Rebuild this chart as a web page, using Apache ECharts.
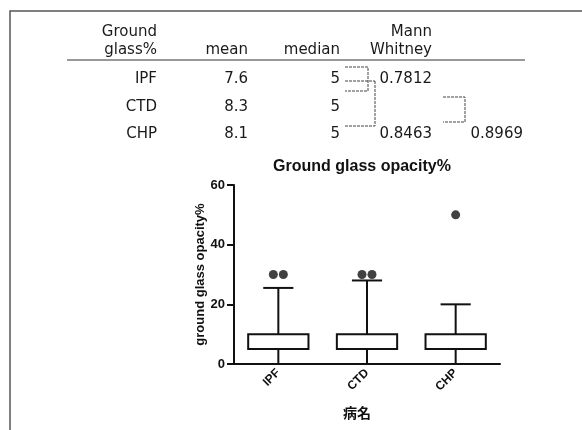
<!DOCTYPE html>
<html>
<head>
<meta charset="utf-8">
<script src="https://cdn.jsdelivr.net/npm/echarts@6/dist/echarts.min.js"></script>
<style>
html,body{margin:0;padding:0;background:#fff;}
#main{width:582px;height:430px;}
</style>
</head>
<body>
<div id="main"></div>
<script>
// table data
var rowNames = ['IPF', 'CTD', 'CHP'];
var meanVals = ['7.6', '8.3', '8.1'];
var medianVals = ['5', '5', '5'];
var pLeft = ['0.7812', '', '0.8463'];
var pRight = ['', '', '0.8969'];
var headTop = ['Ground', '', '', 'Mann'];
var headBottom = ['glass%', 'mean', 'median', 'Whitney'];

// boxplot data: [min, Q1, median, Q3, max]
var categories = ['IPF', 'CTD', 'CHP'];
var boxStats = [
    [0, 5, 5, 10, 25.5],
    [0, 5, 5, 10, 28],
    [0, 5, 5, 10, 20]
];
// outliers: [category index, value]
var outliers = [[0, 30], [0, 30], [1, 30], [1, 30], [2, 50]];
var outlierShift = [-5, 5, -5, 5, 0];
var yTicks = [0, 20, 40, 60];

var colRight = [157, 248, 340, 432, 523];
var rowY = [79, 107, 134];
var tFont = '15px "DejaVu Sans"';
var ink = '#1a1a1a';

var graphics = [];
function txt(s, x, y) {
    graphics.push({type: 'text', x: x, y: y,
        style: {text: s, font: tFont, fill: ink, align: 'right', verticalAlign: 'middle'}});
}
headTop.forEach(function (s, i) { if (s) txt(s, colRight[i], 32); });
headBottom.forEach(function (s, i) { txt(s, colRight[i], 50); });
rowNames.forEach(function (s, i) {
    txt(s, colRight[0], rowY[i]);
    txt(meanVals[i], colRight[1], rowY[i]);
    txt(medianVals[i], colRight[2], rowY[i]);
    if (pLeft[i]) txt(pLeft[i], colRight[3], rowY[i]);
    if (pRight[i]) txt(pRight[i], colRight[4], rowY[i]);
});
// frame + rule under header
graphics.push({type: 'polyline', shape: {points: [[10, 430], [10, 11], [582, 11]]},
    style: {stroke: '#555', lineWidth: 1.5, fill: null}});
graphics.push({type: 'line', shape: {x1: 67, y1: 60, x2: 525, y2: 60},
    style: {stroke: '#333', lineWidth: 1}});
// dashed brackets
var brackets = [
    [[345, 67], [368, 67], [368, 91], [345, 91]],
    [[345, 81], [375, 81]],
    [[375, 81], [375, 126], [345, 126]],
    [[443, 97], [465, 97], [465, 122], [443, 122]]
];
brackets.forEach(function (p) {
    graphics.push({type: 'polyline', shape: {points: p},
        style: {stroke: '#444', lineWidth: 1, lineDash: [3, 1], fill: null}});
});

var chart = echarts.init(document.getElementById('main'));
var option = {
    backgroundColor: '#fff',
    animation: false,
    title: {
        text: 'Ground glass opacity%',
        left: 357,
        top: 154,
        textAlign: 'center',
        textStyle: {fontFamily: 'Liberation Sans', fontWeight: 'bold', fontSize: 16, color: '#111'}
    },
    grid: {left: 234, right: 82, top: 185, bottom: 66},
    xAxis: {
        type: 'category',
        data: categories,
        name: '病名',
        nameLocation: 'middle',
        nameGap: 42,
        nameTextStyle: {fontFamily: 'Noto Sans CJK JP', fontWeight: 'bold', fontSize: 14,
            color: '#111', padding: [0, 20, 0, 0]},
        axisLine: {lineStyle: {color: '#111', width: 2}},
        axisTick: {alignWithLabel: true, length: 5, lineStyle: {color: '#111', width: 2}},
        axisLabel: {rotate: 45, margin: 7, fontFamily: 'Liberation Sans', fontWeight: 'bold',
            fontSize: 12, color: '#111'},
        splitLine: {show: false}
    },
    yAxis: {
        type: 'value',
        min: yTicks[0],
        max: yTicks[yTicks.length - 1],
        interval: yTicks[1] - yTicks[0],
        name: 'ground glass opacity%',
        nameLocation: 'middle',
        nameGap: 26,
        nameRotate: 90,
        nameTextStyle: {fontFamily: 'Liberation Sans', fontWeight: 'bold', fontSize: 13, color: '#111'},
        axisLine: {show: true, lineStyle: {color: '#111', width: 2}},
        axisTick: {show: true, length: 7, lineStyle: {color: '#111', width: 2}},
        axisLabel: {margin: 9, fontFamily: 'Liberation Sans', fontWeight: 'bold', fontSize: 13, color: '#111'},
        splitLine: {show: false}
    },
    graphic: graphics,
    series: [
        {
            type: 'custom',
            data: boxStats.map(function (s, i) { return [i].concat(s); }),
            encode: {x: 0, y: [1, 2, 3, 4, 5]},
            renderItem: function (params, api) {
                var i = api.value(0);
                var lo = api.coord([i, api.value(1)]);
                var q1 = api.coord([i, api.value(2)]);
                var md = api.coord([i, api.value(3)]);
                var q3 = api.coord([i, api.value(4)]);
                var hi = api.coord([i, api.value(5)]);
                var band = api.size([1, 0])[0];
                var hw = band * 0.34, cw = band * 0.17;
                var x = lo[0];
                var st = {stroke: '#111', lineWidth: 2, fill: null};
                return {
                    type: 'group',
                    children: [
                        {type: 'line', shape: {x1: x, y1: lo[1], x2: x, y2: q1[1]}, style: st},
                        {type: 'line', shape: {x1: x, y1: q3[1], x2: x, y2: hi[1]}, style: st},
                        {type: 'line', shape: {x1: x - cw, y1: hi[1], x2: x + cw, y2: hi[1]}, style: st},
                        {type: 'rect', shape: {x: x - hw, y: q3[1], width: hw * 2, height: q1[1] - q3[1]},
                            style: {stroke: '#111', lineWidth: 2, fill: '#fff'}},
                        {type: 'line', shape: {x1: x - hw, y1: md[1], x2: x + hw, y2: md[1]}, style: st}
                    ]
                };
            }
        },
        {
            type: 'scatter',
            symbol: 'circle',
            symbolSize: 9,
            itemStyle: {color: '#111'},
            data: outliers.map(function (o, k) {
                return {value: o, symbolOffset: [outlierShift[k], 0]};
            })
        }
    ]
};
chart.setOption(option);
window.addEventListener('resize', chart.resize);
</script>
</body>
</html>
